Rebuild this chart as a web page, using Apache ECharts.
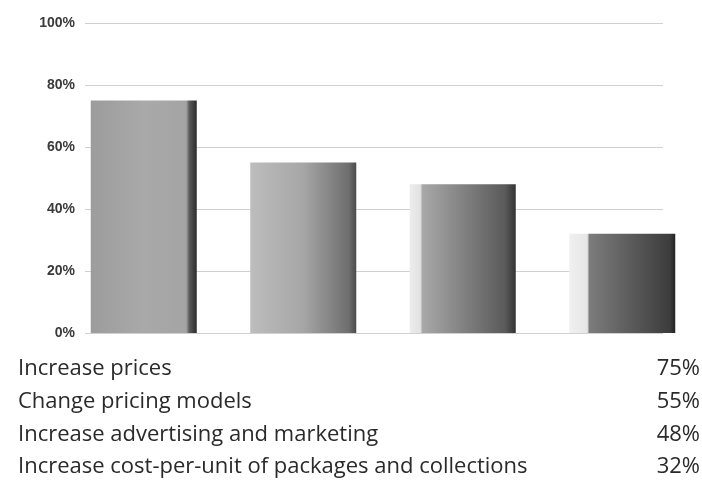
<!DOCTYPE html>
<html>
<head>
<meta charset="utf-8">
<script src="https://cdn.jsdelivr.net/npm/echarts@6/dist/echarts.min.js"></script>
<style>
  html, body { margin: 0; padding: 0; background: #fff; }
  #chart { width: 702px; height: 483px; }
</style>
</head>
<body>
<div id="chart"></div>
<script>
// Survey responses: planned actions and the share choosing each
const categories = [
  'Increase prices',
  'Change pricing models',
  'Increase advertising and marketing',
  'Increase cost-per-unit of packages and collections'
];
const values = [75, 55, 48, 32];
const yTicks = [0, 20, 40, 60, 80, 100];

// Shaded faces giving each column a bevelled, lit look
const faces = [
  [[0, '#9c9c9c'], [0.5, '#a9a9a9'], [0.9, '#a4a4a4'], [0.93, '#5a5a5a'], [1, '#2b2b2b']],
  [[0, '#bdbdbd'], [0.5, '#a6a6a6'], [0.93, '#6e6e6e'], [1, '#4a4a4a']],
  [[0, '#ececec'], [0.1, '#e2e2e2'], [0.12, '#a8a8a8'], [0.9, '#5a5a5a'], [1, '#333333']],
  [[0, '#f0f0f0'], [0.17, '#e6e6e6'], [0.19, '#7c7c7c'], [0.95, '#3c3c3c'], [1, '#222222']]
];

const chart = echarts.init(document.getElementById('chart'));

// Category / value table under the plot
const tableTop = 358, rowGap = 32.7;
const tableFont = '22px "Open Sans", sans-serif';
const tableText = [];
categories.forEach((c, i) => {
  tableText.push({
    type: 'text', left: 18, top: tableTop + i * rowGap,
    style: { text: c, font: tableFont, fill: '#2a2a2a' }
  });
  tableText.push({
    type: 'text', right: 2, top: tableTop + i * rowGap,
    style: { text: values[i] + '%', font: tableFont, fill: '#2a2a2a', textAlign: 'right' }
  });
});

chart.setOption({
  animation: false,
  grid: [
    { left: 64, top: 23, width: 640, height: 310 },
    { left: 85, top: 23, width: 578, height: 310 }
  ],
  xAxis: [
    { type: 'category', gridIndex: 0, data: categories, show: false },
    { type: 'category', gridIndex: 1, data: categories, show: false }
  ],
  yAxis: [
    { type: 'value', gridIndex: 0, min: 0, max: 100, interval: 20, show: false },
    {
      type: 'value', gridIndex: 1, min: yTicks[0], max: yTicks[yTicks.length - 1], interval: 20,
      axisLine: { show: false }, axisTick: { show: false },
      axisLabel: {
        formatter: '{value}%', margin: 10,
        fontFamily: 'Liberation Sans', fontWeight: 'bold', fontSize: 14, color: '#3a3a3a'
      },
      splitLine: { lineStyle: { color: '#d0d0d0', width: 1 } }
    }
  ],
  series: [{
    type: 'bar', xAxisIndex: 0, yAxisIndex: 0, barWidth: 106, z: 5,
    data: values.map((v, i) => ({
      value: v,
      itemStyle: {
        color: new echarts.graphic.LinearGradient(0, 0, 1, 0,
          faces[i].map(s => ({ offset: s[0], color: s[1] })))
      }
    }))
  }],
  graphic: tableText
});
</script>
</body>
</html>
